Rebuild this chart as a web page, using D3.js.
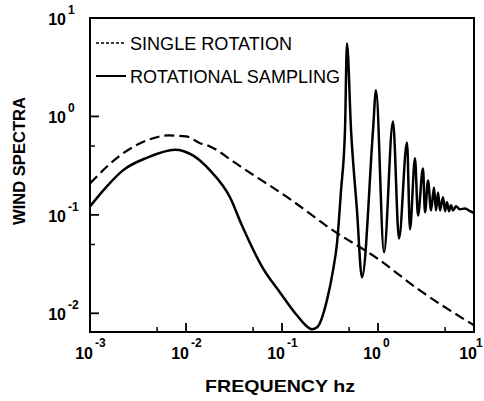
<!DOCTYPE html>
<html>
<head>
  <meta charset="utf-8">
<style type="text/css">
  body { margin: 0; background: #fff; }
  text { font-family: "Liberation Sans", Arial, sans-serif; fill: #000; }
</style>
</head>
<script src="https://cdn.jsdelivr.net/npm/d3@7"></script>
<body>
<script>
  var w = 484;
  var h = 401;

  // single rotation (dashed curve)
  var singleFreq = [0.001, 0.0022, 0.0039, 0.0065, 0.01, 0.014, 0.0178, 0.0309, 0.0383, 0.127, 0.316, 1.0, 2.55, 10];
  var singleSpec = [0.209, 0.421, 0.570, 0.641, 0.627, 0.535, 0.496, 0.349, 0.303, 0.140, 0.0729, 0.0357, 0.0179, 0.00755];

  // rotational sampling (solid curve)
  var samplingFreq = [0.001, 0.0015, 0.0022, 0.0039, 0.0077, 0.0118, 0.0178, 0.0287, 0.0383,
                      0.0634, 0.0953, 0.143, 0.187, 0.205, 0.232, 0.294, 0.340, 0.374, 0.412,
                      0.453, 0.475, 0.524, 0.604, 0.681, 0.887, 0.953, 1.155, 1.432, 1.655,
                      2.005, 2.154, 2.427, 2.61, 2.94, 3.09, 3.32, 3.57, 3.83, 4.02,
                      4.22, 4.42, 4.75, 4.99, 5.23, 5.49, 5.76, 6.04, 6.49, 7.15,
                      8.05, 9.08, 10];
  var samplingSpec = [0.122, 0.195, 0.283, 0.38, 0.46, 0.402, 0.283, 0.151, 0.078,
                      0.0286, 0.0163, 0.00955, 0.0072, 0.00688, 0.0072, 0.0136, 0.0273, 0.0514, 0.177,
                      0.721, 5.51, 0.721, 0.111, 0.0232, 0.721, 1.84, 0.0416, 0.889, 0.0577,
                      0.544, 0.0713, 0.375, 0.0988, 0.296, 0.106, 0.224, 0.111, 0.190, 0.111,
                      0.169, 0.111, 0.151, 0.109, 0.134, 0.109, 0.125, 0.111, 0.122, 0.114,
                      0.116, 0.109, 0.104];

  var xMajor = [1e-3, 1e-2, 1e-1, 1, 10];
  var xMinor = [5e-3, 5e-2, 5e-1, 5];
  var xExp = ["-3", "-2", "-1", "0", "1"];
  var yMajor = [1e-2, 1e-1, 1, 10];
  var yMinor = [5e-2, 5e-1];
  var yExp = ["-2", "-1", "0", "1"];
  var legendLabels = ["SINGLE ROTATION", "ROTATIONAL SAMPLING"];

  var plotLeft = 90, plotRight = 474, plotTop = 18, plotBottom = 332;

  var svg = d3.select("body")
              .append("svg")
              .attr("width", w)
              .attr("height", h);

  svg.append("rect").attr("width", w).attr("height", h).attr("fill", "#fff");

  var x = d3.scaleLog().domain([1e-3, 10]).range([plotLeft, plotRight]);
  var y = d3.scaleLog().domain([Math.pow(10, -2.19), 10]).range([plotBottom, plotTop]);

  var line = d3.line()
               .x(function (d) { return x(d[0]); })
               .y(function (d) { return y(d[1]); })
               .curve(d3.curveMonotoneX);

  svg.append("path")
     .attr("d", line(d3.zip(singleFreq, singleSpec)))
     .attr("fill", "none")
     .attr("stroke", "#000")
     .attr("stroke-width", 2.2)
     .attr("stroke-dasharray", "10,5");

  svg.append("path")
     .attr("d", line(d3.zip(samplingFreq, samplingSpec)))
     .attr("fill", "none")
     .attr("stroke", "#000")
     .attr("stroke-width", 2.5)
     .attr("stroke-linejoin", "round");

  // frame
  svg.append("rect")
     .attr("x", plotLeft).attr("y", plotTop)
     .attr("width", plotRight - plotLeft).attr("height", plotBottom - plotTop)
     .attr("fill", "none").attr("stroke", "#000").attr("stroke-width", 2);

  // ticks
  svg.selectAll(".xmaj").data(xMajor).enter().append("line")
     .attr("x1", x).attr("x2", x).attr("y1", plotBottom).attr("y2", plotBottom - 9)
     .attr("stroke", "#000").attr("stroke-width", 1.8);
  svg.selectAll(".xmin").data(xMinor).enter().append("line")
     .attr("x1", x).attr("x2", x).attr("y1", plotBottom).attr("y2", plotBottom - 5)
     .attr("stroke", "#000").attr("stroke-width", 1.5);
  svg.selectAll(".ymaj").data(yMajor).enter().append("line")
     .attr("y1", y).attr("y2", y).attr("x1", plotLeft).attr("x2", plotLeft + 9)
     .attr("stroke", "#000").attr("stroke-width", 1.8);
  svg.selectAll(".ymin").data(yMinor).enter().append("line")
     .attr("y1", y).attr("y2", y).attr("x1", plotLeft).attr("x2", plotLeft + 5)
     .attr("stroke", "#000").attr("stroke-width", 1.5);

  // tick labels (last exponent nudged so it stays inside the page)
  xMajor.forEach(function (t, i) {
    svg.append("text").attr("x", x(t) + 3).attr("y", 359)
       .attr("text-anchor", "end").attr("font-size", 16).attr("font-weight", "bold")
       .text("10");
    svg.append("text").attr("x", Math.min(x(t) + 5, 476)).attr("y", 347)
       .attr("font-size", 12).attr("font-weight", "bold")
       .text(xExp[i]);
  });
  yMajor.forEach(function (t, i) {
    svg.append("text").attr("x", 66).attr("y", y(t) + 7)
       .attr("text-anchor", "end").attr("font-size", 16).attr("font-weight", "bold")
       .text("10");
    svg.append("text").attr("x", 68).attr("y", y(t) - 4)
       .attr("font-size", 12).attr("font-weight", "bold")
       .text(yExp[i]);
  });

  // axis titles
  svg.append("text").attr("x", 205).attr("y", 392)
     .attr("font-size", 17).attr("font-weight", "bold")
     .attr("textLength", 150).attr("lengthAdjust", "spacingAndGlyphs")
     .text("FREQUENCY hz");
  svg.append("text")
     .attr("transform", "translate(25,161) rotate(-90)")
     .attr("text-anchor", "middle")
     .attr("font-size", 16).attr("font-weight", "bold")
     .attr("textLength", 128).attr("lengthAdjust", "spacingAndGlyphs")
     .text("WIND SPECTRA");

  // legend
  svg.append("line").attr("x1", 96).attr("x2", 124).attr("y1", 43).attr("y2", 43)
     .attr("stroke", "#000").attr("stroke-width", 1.6).attr("stroke-dasharray", "3,2");
  svg.append("line").attr("x1", 96).attr("x2", 126).attr("y1", 76).attr("y2", 76)
     .attr("stroke", "#000").attr("stroke-width", 2);
  svg.append("text").attr("x", 130).attr("y", 50).attr("font-size", 19)
     .attr("textLength", 162).attr("lengthAdjust", "spacingAndGlyphs")
     .text(legendLabels[0]);
  svg.append("text").attr("x", 130).attr("y", 83).attr("font-size", 19)
     .attr("textLength", 210).attr("lengthAdjust", "spacingAndGlyphs")
     .text(legendLabels[1]);
</script>
</body>
</html>
